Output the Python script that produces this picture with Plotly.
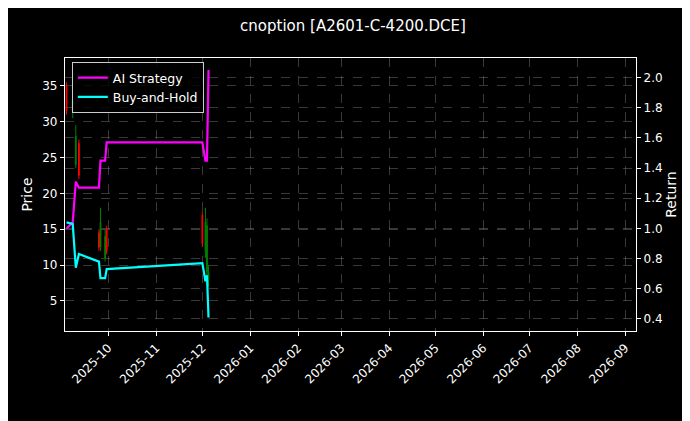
import plotly.graph_objects as go

dates = ["2025-09-04", "2025-09-08", "2025-09-10", "2025-09-12", "2025-09-25", "2025-09-26",
         "2025-09-29", "2025-09-30", "2025-12-01", "2025-12-03", "2025-12-04", "2025-12-05"]
opens = [35.0, 31.5, 24.0, 27.0, 14.5, 12.5, 11.0, 15.0, 17.0, 12.0, 9.0, 8.0]
highs = [35.5, 34.0, 29.5, 27.5, 15.0, 18.0, 15.0, 15.5, 17.5, 18.0, 16.5, 10.0]
lows = [31.0, 30.5, 23.5, 22.0, 12.0, 12.0, 10.5, 11.5, 12.5, 11.0, 8.5, 7.0]
closes = [31.5, 33.0, 28.0, 22.5, 12.5, 16.0, 14.0, 12.0, 13.0, 16.0, 15.5, 9.0]
ai_strategy = [1.0, 1.04, 1.31, 1.27, 1.27, 1.45, 1.45, 1.57, 1.57, 1.45, 1.45, 2.05]
buy_hold = [1.04, 1.03, 0.74, 0.83, 0.78, 0.67, 0.67, 0.73, 0.77, 0.65, 0.69, 0.41]

fig = go.Figure()
fig.add_trace(go.Candlestick(
    x=dates, open=opens, high=highs, low=lows, close=closes,
    increasing={"line": {"color": "green", "width": 1}, "fillcolor": "green"},
    decreasing={"line": {"color": "red", "width": 1}, "fillcolor": "red"},
    whiskerwidth=0, showlegend=False, yaxis="y",
))
fig.add_trace(go.Scatter(x=dates, y=ai_strategy, mode="lines", name="AI Strategy",
                         line={"color": "#ff00ff", "width": 2.2}, yaxis="y2"))
fig.add_trace(go.Scatter(x=dates, y=buy_hold, mode="lines", name="Buy-and-Hold",
                         line={"color": "#00ffff", "width": 2.2}, yaxis="y2"))

axis_common = dict(
    showline=True, linecolor="white", linewidth=1.2, mirror=True,
    ticks="outside", tickcolor="white", ticklen=4,
    gridcolor="rgba(160,160,160,0.35)", griddash="dash", gridwidth=0.6,
    zeroline=False, tickfont={"color": "white", "size": 12},
)

fig.update_layout(
    width=690, height=421,
    paper_bgcolor="black", plot_bgcolor="black",
    font={"family": "DejaVu Sans", "color": "white", "size": 12},
    margin={"l": 57, "r": 62, "t": 50, "b": 98},
    title={"text": "cnoption [A2601-C-4200.DCE]", "x": 0.5, "xanchor": "center",
           "y": 0.957, "yanchor": "middle", "font": {"size": 15, "color": "white"}},
    xaxis=dict(axis_common, type="date", range=["2025-09-03", "2026-09-08"],
               dtick="M1", tick0="2025-10-01", tickformat="%Y-%m", tickangle=-45,
               rangeslider={"visible": False}),
    yaxis=dict(axis_common, range=[0.8, 38.9], dtick=5,
               title={"text": "Price", "font": {"color": "white"}, "standoff": 6}),
    yaxis2=dict(axis_common, range=[0.32, 2.13], dtick=0.2, tickformat=".1f", overlaying="y",
                side="right", showgrid=True, mirror=False,
                title={"text": "Return", "font": {"color": "white"}, "standoff": 4}),
    legend={"x": 0.012, "y": 0.985, "xanchor": "left", "yanchor": "top",
            "bgcolor": "rgba(0,0,0,0.8)", "bordercolor": "#cccccc", "borderwidth": 1,
            "font": {"color": "white", "size": 12.5}},
)

fig.write_html("out.html")
